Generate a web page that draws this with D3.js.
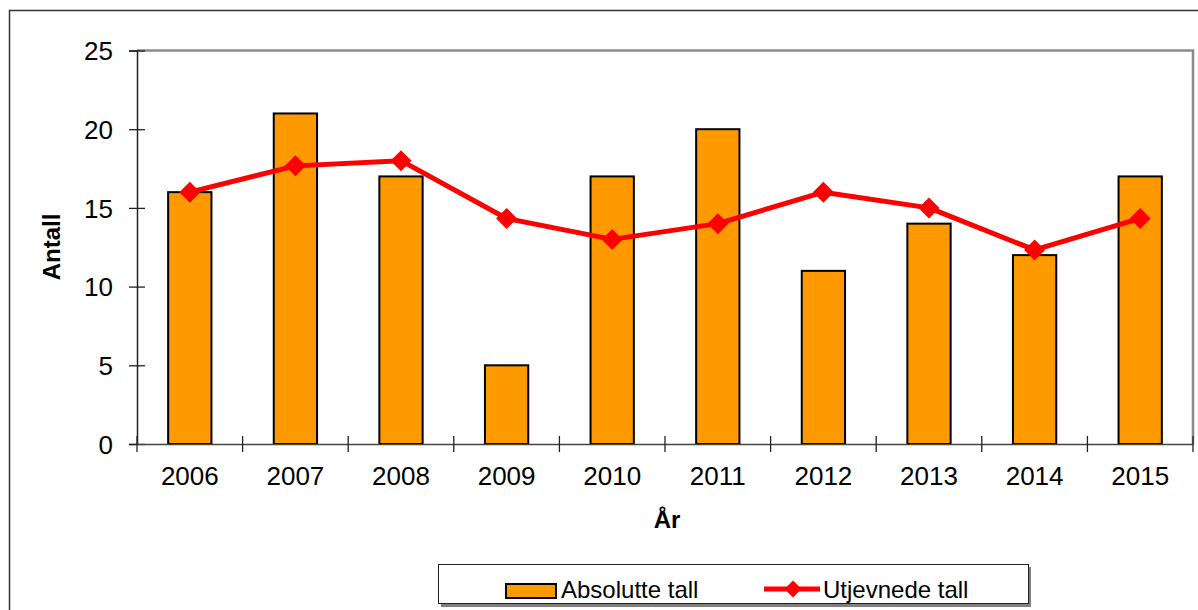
<!DOCTYPE html>
<html>
<head>
<meta charset="utf-8">
<script src="https://cdn.jsdelivr.net/npm/d3@7"></script>
<style>
  html, body { margin: 0; padding: 0; background: #fff; }
  svg { display: block; font-family: "Liberation Sans", Arial, sans-serif; }
</style>
</head>
<body>
<svg id="chart" width="1198" height="610"></svg>
<script>
const categories = ["2006","2007","2008","2009","2010","2011","2012","2013","2014","2015"];
const absoluteValues = [16, 21, 17, 5, 17, 20, 11, 14, 12, 17];
const smoothedValues = [16, 17.67, 18, 14.33, 13, 14, 16, 15, 12.33, 14.33];
const yTickValues = [0, 5, 10, 15, 20, 25];
const seriesNames = ["Absolutte tall", "Utjevnede tall"];
const yTitle = "Antall";
const xTitle = "År";

(function () {
const svg = d3.select("#chart");
const pLeft = 137, pRight = 1193, pTop = 50.5, pBottom = 444;

// outer frame
svg.append("rect").attr("x", 9.5).attr("y", 10.5).attr("width", 1200).attr("height", 620)
  .attr("fill", "#fff").attr("stroke", "#333").attr("stroke-width", 1.5);

const x = d3.scaleBand().domain(categories).range([pLeft, pRight]).padding(0);
const y = d3.scaleLinear().domain([0, 25]).range([pBottom, pTop]);

// plot border (top & right, gray)
svg.append("path")
  .attr("d", `M${pLeft},${pTop}H${pRight}V${pBottom}`)
  .attr("fill", "none").attr("stroke", "#8c8c8c").attr("stroke-width", 2.5);

// bars
const barW = x.bandwidth() * 0.41;
svg.append("g").selectAll("rect").data(absoluteValues).join("rect")
  .attr("x", (d, i) => x(categories[i]) + (x.bandwidth() - barW) / 2)
  .attr("y", d => y(d))
  .attr("width", barW)
  .attr("height", d => y(0) - y(d))
  .attr("fill", "#FF9900").attr("stroke", "#000").attr("stroke-width", 2);

// y axis
const yAxis = svg.append("g").attr("transform", `translate(${pLeft},0)`)
  .call(d3.axisLeft(y).tickValues(yTickValues).tickSize(8).tickFormat(d3.format("d")));
yAxis.select(".domain").attr("stroke", "#222").attr("stroke-width", 1.5);
yAxis.selectAll(".tick line").attr("x1", -8).attr("x2", 8).attr("stroke", "#222").attr("stroke-width", 1.3);
yAxis.selectAll(".tick text").attr("x", -24).attr("dy", "0.35em")
  .attr("font-size", 26).attr("fill", "#000").attr("font-family", "Liberation Sans, Arial, sans-serif");

// x axis
const xAxis = svg.append("g").attr("transform", `translate(0,${pBottom})`)
  .call(d3.axisBottom(x).tickSize(0).tickSizeOuter(0));
xAxis.select(".domain").attr("stroke", "#444").attr("stroke-width", 1.5);
xAxis.selectAll(".tick text").attr("y", 41).attr("dy", 0)
  .attr("font-size", 26).attr("fill", "#000").attr("font-family", "Liberation Sans, Arial, sans-serif");
// boundary ticks
const bounds = categories.map(c => x(c)).concat([x.range()[1]]);
svg.append("g").selectAll("line").data(bounds).join("line")
  .attr("x1", d => d).attr("x2", d => d)
  .attr("y1", pBottom - 8).attr("y2", pBottom + 8)
  .attr("stroke", "#222").attr("stroke-width", 1.3);

// line series
const cx = i => x(categories[i]) + x.bandwidth() / 2;
const line = d3.line().x((d, i) => cx(i)).y(d => y(d));
svg.append("path").datum(smoothedValues).attr("d", line)
  .attr("fill", "none").attr("stroke", "#FF0000").attr("stroke-width", 5).attr("stroke-linejoin", "round");
const diamond = (px, py, r) => `M${px},${py - r}L${px + r},${py}L${px},${py + r}L${px - r},${py}Z`;
svg.append("g").selectAll("path").data(smoothedValues).join("path")
  .attr("d", (d, i) => diamond(cx(i), y(d), 10.5))
  .attr("fill", "#FF0000");

// axis titles
svg.append("text").attr("transform", `translate(60,247) rotate(-90)`)
  .attr("text-anchor", "middle").attr("font-size", 24).attr("font-weight", "bold").text(yTitle);
svg.append("text").attr("x", 667).attr("y", 528)
  .attr("text-anchor", "middle").attr("font-size", 24).attr("font-weight", "bold").text(xTitle);

// legend
const lg = svg.append("g");
lg.append("rect").attr("x", 441).attr("y", 567).attr("width", 590).attr("height", 40).attr("fill", "#808080");
lg.append("rect").attr("x", 438.5).attr("y", 564.5).attr("width", 590).attr("height", 39)
  .attr("fill", "#fff").attr("stroke", "#222").attr("stroke-width", 1);
lg.append("rect").attr("x", 506).attr("y", 584).attr("width", 50).attr("height", 14)
  .attr("fill", "#FF9900").attr("stroke", "#000").attr("stroke-width", 2);
lg.append("text").attr("x", 561).attr("y", 598).attr("font-size", 24).text(seriesNames[0]);
lg.append("line").attr("x1", 764).attr("x2", 820).attr("y1", 589).attr("y2", 589)
  .attr("stroke", "#FF0000").attr("stroke-width", 5);
lg.append("path").attr("d", diamond(793, 589, 8.5)).attr("fill", "#FF0000");
lg.append("text").attr("x", 823).attr("y", 598).attr("font-size", 24).text(seriesNames[1]);
})();
</script>
</body>
</html>
